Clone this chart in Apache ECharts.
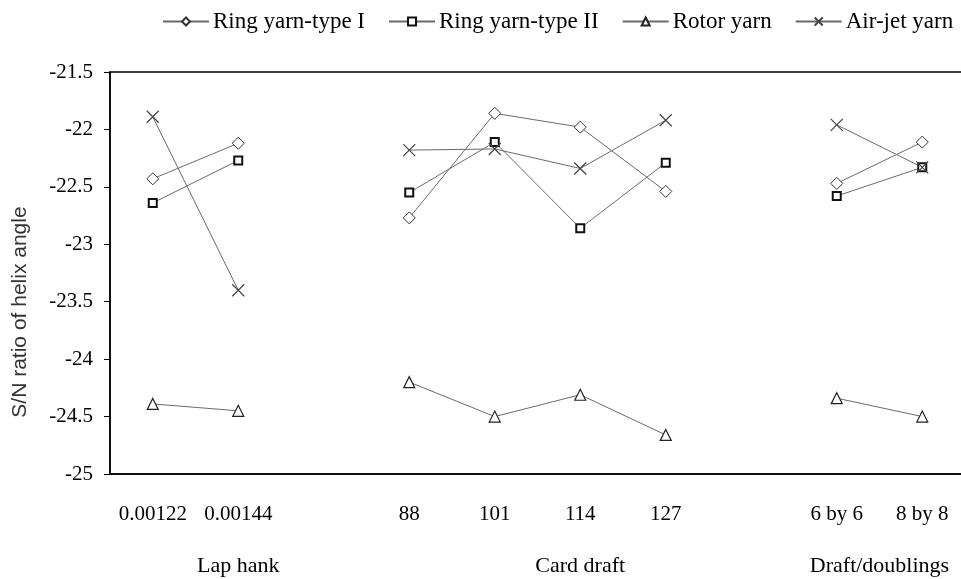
<!DOCTYPE html>
<html><head><meta charset="utf-8">
<script src="https://cdn.jsdelivr.net/npm/echarts@6/dist/echarts.min.js"></script>
<style>html,body{margin:0;padding:0;background:#fff}#c{width:961px;height:579px}</style>
</head><body><div id="c"></div>
<script>
const categories = ['0.00122', '0.00144', '', '88', '101', '114', '127', '', '6 by 6', '8 by 8'];
const ringTypeI  = [-22.43, -22.12, null, -22.77, -21.86, -21.98, -22.54, null, -22.47, -22.11];
const ringTypeII = [-22.64, -22.27, null, -22.55, -22.11, -22.86, -22.29, null, -22.58, -22.33];
const rotorYarn  = [-24.39, -24.45, null, -24.20, -24.50, -24.31, -24.66, null, -24.34, -24.50];
const airJetYarn = [-21.89, -23.40, null, -22.18, -22.17, -22.34, -21.92, null, -21.96, -22.33];
const seriesNames = ['Ring yarn-type I', 'Ring yarn-type II', 'Rotor yarn', 'Air-jet yarn'];
const groupSlots = ['', '', '', 'Lap hank', '', '', '', '', '', '', '', 'Card draft', '', '', '', '', '', '', 'Draft/doublings', '', ''];
const yTicks = { min: -25, max: -21.5, interval: 0.5 };
const yAxisTitle = 'S/N ratio of helix angle';

const font = 'Liberation Serif';
const xPath = 'path://M0,0L10,10M10,0L0,10';
function mk(name, data, symbol, size, extra) {
  return Object.assign({
    name, type: 'line', data, symbol, symbolSize: size, connectNulls: false,
    lineStyle: { color: '#6a6a6a', width: 1 },
    itemStyle: { color: '#fff', borderColor: '#333', borderWidth: 1 },
    emphasis: { disabled: true }
  }, extra || {});
}
const chart = echarts.init(document.getElementById('c'), null, { renderer: 'canvas' });
chart.setOption({
  animation: false,
  textStyle: { fontFamily: font, color: '#000' },
  legend: {
    top: 10, left: 162, width: 799, padding: 0, itemWidth: 46, itemHeight: 10, itemGap: 23,
    textStyle: { fontFamily: font, fontSize: 23, color: '#000', padding: [0, 0, 0, -1] },
    data: seriesNames
  },
  grid: { left: 110, top: 72, width: 855, height: 402, outerBoundsMode: 'none', containLabel: false,
          show: true, borderColor: '#000', borderWidth: 1.5, backgroundColor: 'transparent' },
  xAxis: [{
    type: 'category', data: categories, boundaryGap: true, position: 'bottom',
    axisLine: { lineStyle: { color: '#000', width: 1.5 } },
    axisTick: { show: false },
    axisLabel: { fontFamily: font, fontSize: 21, color: '#000', margin: 30, interval: 0 },
    splitLine: { show: false }
  }, {
    type: 'category', data: groupSlots, boundaryGap: false, position: 'bottom',
    axisLine: { show: false }, axisTick: { show: false },
    axisLabel: { fontFamily: font, fontSize: 22, color: '#000', margin: 81, interval: 0 },
    splitLine: { show: false }
  }],
  yAxis: {
    type: 'value', min: yTicks.min, max: yTicks.max, interval: yTicks.interval,
    axisLine: { show: true, lineStyle: { color: '#000', width: 1.5 } },
    axisTick: { show: true, length: 6, lineStyle: { color: '#000' } },
    axisLabel: { fontFamily: font, fontSize: 21, color: '#000', margin: 17, formatter: v => String(v) },
    splitLine: { show: false }
  },
  graphic: [{
    type: 'text', x: 20, y: 312, rotation: Math.PI / 2,
    style: { text: yAxisTitle, fontFamily: 'Liberation Sans', fontSize: 21, fill: '#333',
             textAlign: 'center', textVerticalAlign: 'middle' }
  }],
  series: [
    mk(seriesNames[0], ringTypeI, 'diamond', 12),
    mk(seriesNames[1], ringTypeII, 'rect', 8, { itemStyle: { color: '#fff', borderColor: '#111', borderWidth: 2 } }),
    mk(seriesNames[2], rotorYarn, 'triangle', 11, { itemStyle: { color: '#fff', borderColor: '#222', borderWidth: 1.2 } }),
    mk(seriesNames[3], airJetYarn, xPath, 12, { itemStyle: { color: 'none', borderColor: '#444', borderWidth: 1.2 } })
  ]
});
</script></body></html>
